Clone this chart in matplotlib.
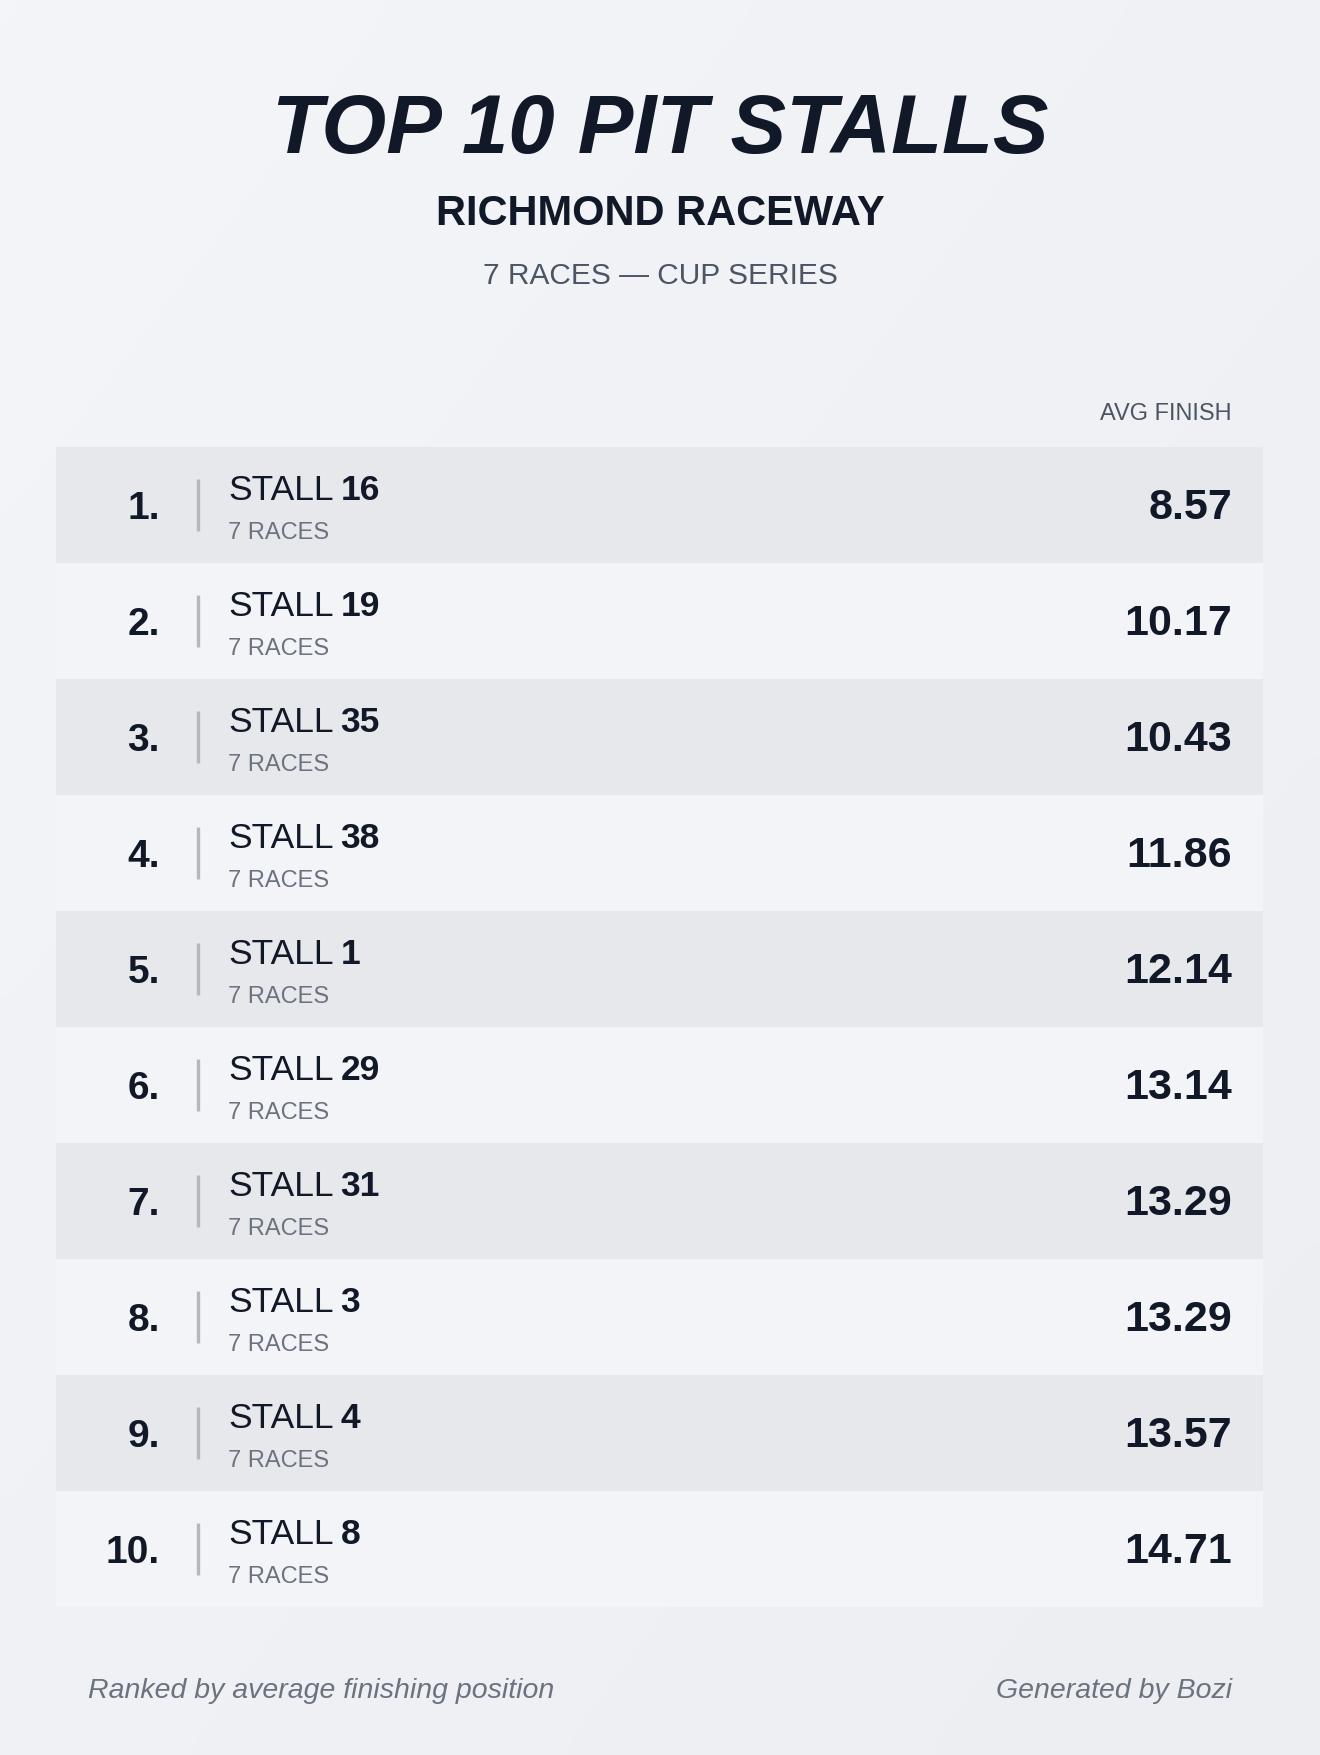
"""
Top 10 pit stalls card, Richmond Raceway
"""
import matplotlib
matplotlib.use('Agg')
import matplotlib.pyplot as plt
from matplotlib import font_manager
import numpy as np


ranks = [1, 2, 3, 4, 5, 6, 7, 8, 9, 10]
stalls = [16, 19, 35, 38, 1, 29, 31, 3, 4, 8]
races = [7, 7, 7, 7, 7, 7, 7, 7, 7, 7]
avg_finish = [8.57, 10.17, 10.43, 11.86, 12.14, 13.14, 13.29, 13.29, 13.57, 14.71]

title = 'TOP 10 PIT STALLS'
track = 'RICHMOND RACEWAY'
series = '7 RACES \u2014 CUP SERIES'
column_label = 'AVG FINISH'
foot_left = 'Ranked by average finishing position'
foot_right = 'Generated by Bozi'

DARK = '#111827'
GREY = '#4b5563'
MUTED = '#6b7280'

installed = {f.name for f in font_manager.fontManager.ttflist}
family = [f for f in ['Liberation Sans Narrow', 'Liberation Sans', 'Roboto'] if f in installed]
plt.rcParams['font.family'] = family + ['DejaVu Sans']

W, H = 1320, 1756
fig = plt.figure(figsize=(W / 100, H / 100), dpi=100)
ax = fig.add_axes([0, 0, 1, 1])
ax.set_xlim(0, W)
ax.set_ylim(H, 0)
ax.axis('off')

# soft background gradient
gx, gy = np.meshgrid(np.linspace(0, 1, 64), np.linspace(0, 1, 64))
grad = 0.5 * gx + 0.5 * gy
ax.imshow(grad, extent=(0, W, H, 0), cmap=matplotlib.colors.LinearSegmentedColormap.from_list(
    'bg', ['#f4f5f8', '#eceef2']), aspect='auto', zorder=0, interpolation='bicubic')

ax.text(W / 2, 153, title, ha='center', va='baseline', fontsize=60,
        fontweight='bold', fontstyle='italic', color=DARK)
ax.text(W / 2, 225, track, ha='center', va='baseline', fontsize=30,
        fontweight='bold', color=DARK)
ax.text(W / 2, 284, series, ha='center', va='baseline', fontsize=21.5, color=GREY)
ax.text(1232, 420, column_label, ha='right', va='baseline', fontsize=17, color=GREY)

top, row_h = 448, 116
left, right = 56, 1263
centers = [top + row_h * (i + 0.5) for i in range(len(ranks))]
band_colors = ['#e7e8ec' if i % 2 == 0 else '#f3f4f7' for i in range(len(ranks))]
ax.barh(centers, right - left, left=left, height=row_h, color=band_colors, zorder=1)

for c, r, s, n, v in zip(centers, ranks, stalls, races, avg_finish):
    ax.text(160, c + 13, f'{r}.', ha='right', va='baseline', fontsize=28,
            fontweight='bold', color=DARK, zorder=3)
    ax.plot([198, 198], [c - 26, c + 26], color='#b4b7be', lw=2.4,
            solid_capstyle='butt', zorder=3)
    t = ax.text(228, c - 6, 'STALL', ha='left', va='baseline', fontsize=25.5,
                color=DARK, zorder=3)
    ax.annotate(str(s), xy=(1, 0), xycoords=t, xytext=(5, 0),
                textcoords='offset points', ha='left', va='bottom',
                fontsize=25.5, fontweight='bold', color=DARK, zorder=3)
    ax.text(228, c + 33, f'{n} RACES', ha='left', va='baseline', fontsize=17,
            color=MUTED, zorder=3)
    ax.text(1232, c + 13, f'{v:.2f}', ha='right', va='baseline', fontsize=31,
            fontweight='bold', color=DARK, zorder=3)

ax.text(88, 1698, foot_left, ha='left', va='baseline', fontsize=20.5,
        fontstyle='italic', color=MUTED)
ax.text(1232, 1698, foot_right, ha='right', va='baseline', fontsize=20.5,
        fontstyle='italic', color=MUTED)

plt.savefig('out.png', dpi=100)
